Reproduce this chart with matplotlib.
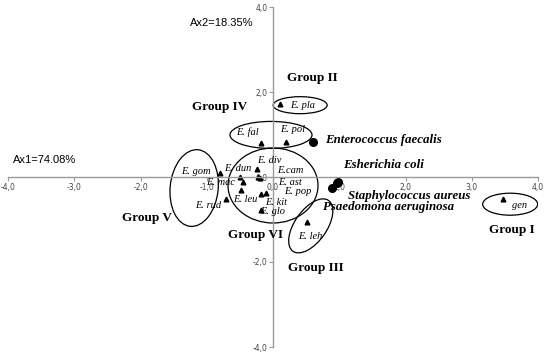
import matplotlib.pyplot as plt
from matplotlib.patches import Ellipse
from matplotlib.transforms import ScaledTranslation

# species scores (triangles)
species = ["E. gom", "E. dun", "E. div", "E. mac", "E.cam", "E. ast", "E. leu",
           "E. pop", "E. kit", "E. glo", "E. rud", "E. fal", "E. pol", "E. pla",
           "E. leh", "gen"]
sp_x = [-0.80, -0.24, -0.23, -0.45, -0.50, -0.11, -0.48, -0.18, -0.19, -0.18,
        -0.71, -0.18, 0.20, 0.11, 0.51, 3.47]
sp_y = [0.09, 0.19, 0.0, -0.12, 0.0, -0.38, -0.31, -0.40, -0.02, -0.78,
        -0.52, 0.80, 0.82, 1.72, -1.06, -0.52]

# bacteria scores (dots)
bacteria = ["Enterococcus faecalis", "Esherichia coli", "Staphylococcus aureus",
            "Psaedomona aeruginosa"]
bac_x = [0.60, 0.98, 0.97, 0.89]
bac_y = [0.82, -0.12, -0.14, -0.26]

xticks = [-4, -3, -2, -1, 0, 1, 2, 3, 4]
xtick_labels = ["-4,0", "-3,0", "-2,0", "-1,0", "0,0", "1,0", "2,0", "3,0", "4,0"]
yticks = [-4, -2, 0, 2, 4]
ytick_labels = ["-4,0", "-2,0", "0,0", "2,0", "4,0"]

groups = ["Group I", "Group II", "Group III", "Group IV", "Group V", "Group VI"]

# label positions (layout)
sp_lab = {"E. gom": (-1.16, 0.12), "E. dun": (-0.53, 0.21), "E. div": (-0.05, 0.40),
          "E. mac": (-0.79, -0.12), "E.cam": (0.26, 0.16), "E. ast": (0.26, -0.12),
          "E. leu": (-0.42, -0.54), "E. pop": (0.38, -0.35), "E. kit": (0.05, -0.59),
          "E. glo": (0.0, -0.80), "E. rud": (-0.98, -0.66), "E. fal": (-0.39, 1.06),
          "E. pol": (0.30, 1.11), "E. pla": (0.45, 1.69), "E. leh": (0.56, -1.41),
          "gen": (3.72, -0.66)}
bac_lab = [(0.79, 0.87), (1.06, 0.28), (1.13, -0.44), (0.76, -0.70)]
grp_lab = [(3.61, -1.25), (0.60, 2.33), (0.65, -2.14), (-0.80, 1.65),
           (-1.90, -0.96), (-0.27, -1.36)]
# ellipses: centre (data), width/height (inches), angle
ells = [((3.58, -0.64), 0.55, 0.22, 0), ((0.41, 1.69), 0.54, 0.17, 0),
        ((0.57, -1.15), 0.62, 0.32, 55), ((-0.03, 0.99), 0.82, 0.27, 0),
        ((-1.19, -0.26), 0.48, 0.77, -6), ((0.0, -0.20), 0.90, 0.75, 0)]

fig = plt.figure(figsize=(5.5, 3.55), dpi=100)
ax = fig.add_axes([8 / 550, 8 / 355, 530 / 550, 340 / 355])
ax.set_xlim(-4, 4)
ax.set_ylim(-4, 4)

for s in ["top", "right"]:
    ax.spines[s].set_visible(False)
for s in ["left", "bottom"]:
    ax.spines[s].set_position("zero")
    ax.spines[s].set_color("#9a9a9a")
    ax.spines[s].set_linewidth(1.0)
ax.set_xticks(xticks)
ax.set_xticklabels(xtick_labels)
ax.set_yticks(yticks)
ax.set_yticklabels(ytick_labels)
ax.tick_params(colors="#9a9a9a", length=3, width=0.8, labelsize=5.5,
               labelcolor="#444444", pad=1)

ax.plot(sp_x, sp_y, "^", color="black", markersize=3.4, linestyle="none")
ax.plot(bac_x, bac_y, "o", color="black", markersize=5.5, linestyle="none")

serif = "Liberation Serif"
for name in species:
    x, y = sp_lab[name]
    ax.text(x, y, name, family=serif, style="italic", fontsize=7.5,
            ha="center", va="center")
for name, (x, y) in zip(bacteria, bac_lab):
    ax.text(x, y, name, family=serif, style="italic", weight="bold",
            fontsize=9.3, ha="left", va="center")
for name, (x, y) in zip(groups, grp_lab):
    ax.text(x, y, name, family=serif, weight="bold", fontsize=9.5,
            ha="center", va="center")

for (cx, cy), w, h, a in ells:
    tr = fig.dpi_scale_trans + ScaledTranslation(cx, cy, ax.transData)
    ax.add_patch(Ellipse((0, 0), w, h, angle=a, transform=tr, fill=False,
                         edgecolor="black", linewidth=0.9))

ax.text(-3.92, 0.40, "Ax1=74.08%", family="Liberation Sans", fontsize=8,
        ha="left", va="center")
ax.text(-0.30, 3.62, "Ax2=18.35%", family="Liberation Sans", fontsize=8,
        ha="right", va="center")

fig.savefig("out.png", dpi=100)
